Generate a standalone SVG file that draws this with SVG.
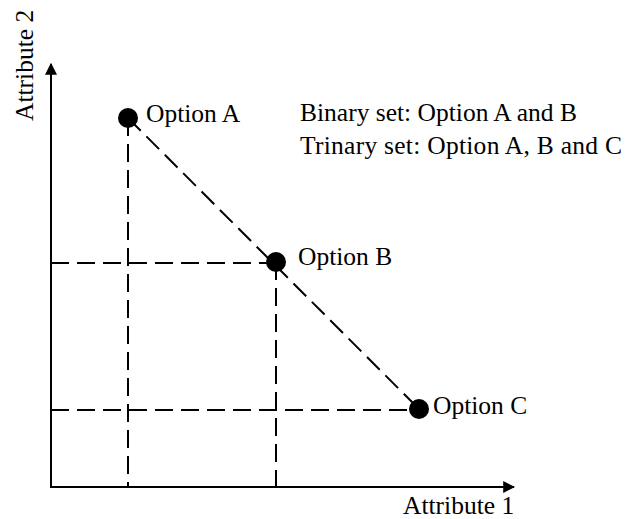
<svg xmlns="http://www.w3.org/2000/svg" width="626" height="519" viewBox="0 0 626 519">
<style>
text{font-family:"Liberation Serif","Times New Roman",serif;font-size:25.5px;fill:#000}
.axis{stroke:#000;stroke-width:2;fill:none}
.dash{stroke:#000;stroke-width:2;fill:none;stroke-dasharray:18 8}
.pt{fill:#000}
</style>
<defs>
<marker id="arr" viewBox="0 0 10 10" refX="9" refY="5" markerWidth="12" markerHeight="12" markerUnits="userSpaceOnUse" orient="auto">
<path d="M0,0 L10,5 L0,10 Z" fill="#000"/>
</marker>
</defs>
<g id="connectors">
<line class="axis" x1="51" y1="488" x2="51" y2="64" marker-end="url(#arr)"/>
<line class="axis" x1="50" y1="487" x2="514" y2="487" marker-end="url(#arr)"/>
<line class="dash" x1="128" y1="118" x2="128" y2="487"/>
<line class="dash" x1="276" y1="262" x2="276" y2="487"/>
<line class="dash" x1="51" y1="263" x2="276" y2="263"/>
<line class="dash" x1="51" y1="410" x2="419" y2="410"/>
<line class="dash" x1="128" y1="118" x2="419" y2="409"/>
</g>
<g id="optionA"><circle class="pt" cx="128" cy="118" r="10"/><text x="146" y="122">Option A</text></g>
<g id="optionB"><circle class="pt" cx="276" cy="262" r="10"/><text x="298" y="265">Option B</text></g>
<g id="optionC"><circle class="pt" cx="419" cy="409" r="10"/><text x="433" y="414">Option C</text></g>
<g id="legend"><text x="300" y="121">Binary set: Option A and B</text><text x="300" y="154" textLength="322">Trinary set: Option A, B and C</text></g>
<g id="labels"><text x="403" y="514">Attribute 1</text><text transform="translate(33,121) rotate(-90)">Attribute 2</text></g>
</svg>
